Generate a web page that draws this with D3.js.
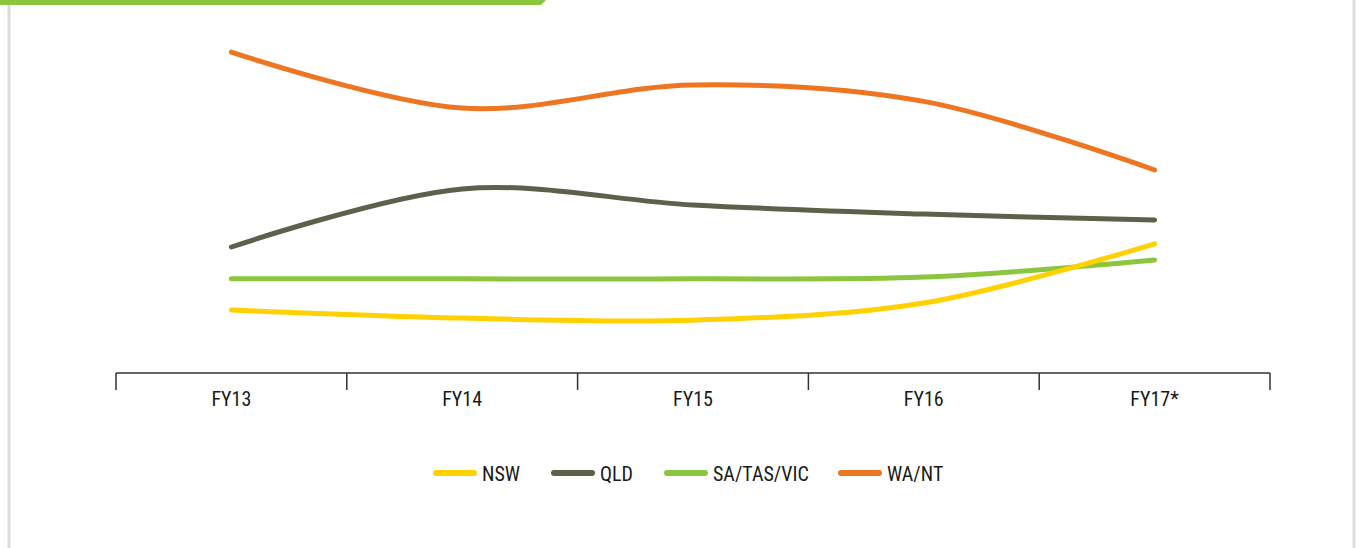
<!DOCTYPE html>
<html>
<head>
<meta charset="utf-8">
<script src="https://cdn.jsdelivr.net/npm/d3@7"></script>
<style>
  html, body { margin: 0; padding: 0; background: #fff; }
  svg { display: block; }
  .lbl { font-family: "Liberation Sans Narrow", "Roboto Condensed", "Roboto", sans-serif; fill: #1a1a1a; }
</style>
</head>
<body>
<div id="chart"></div>
<script>
// ---- data (arbitrary units) ----
const years = ["FY13", "FY14", "FY15", "FY16", "FY17*"];
const seriesNames = ["NSW", "QLD", "SA/TAS/VIC", "WA/NT"];
const seriesColors = ["#FFD100", "#5E604B", "#8CC63F", "#EE7623"];
const nsw = [18.0, 15.7, 15.1, 20.0, 36.9];
const qld = [36.0, 52.6, 48.0, 45.4, 43.7];
const saTasVic = [26.9, 26.9, 26.9, 27.4, 32.3];
const waNt = [91.7, 75.7, 82.3, 77.6, 58.0];

const seriesValues = [nsw, qld, saTasVic, waNt];

const W = 1361, H = 548;
const svg = d3.select("#chart").append("svg")
  .attr("width", W).attr("height", H);

// frame: top green tab + grey side rules
svg.append("path")
  .attr("d", "M0,0 L546,0 L541,5 L0,5 Z")
  .attr("fill", "#8CC63F");
svg.append("line")
  .attr("x1", 9).attr("x2", 9).attr("y1", 5).attr("y2", H)
  .attr("stroke", "#dcdcdc").attr("stroke-width", 3);
svg.append("line")
  .attr("x1", 1354).attr("x2", 1354).attr("y1", 0).attr("y2", H)
  .attr("stroke", "#dcdcdc").attr("stroke-width", 3);

// scales
const x = d3.scaleBand().domain(years).range([116, 1270]).padding(0);
const y = d3.scaleLinear().domain([0, 100]).range([373, 23]);
const cx = d => x(d) + x.bandwidth() / 2;

// x axis: baseline with category boundary ticks
const axisY = 373;
svg.append("line")
  .attr("x1", x.range()[0]).attr("x2", x.range()[1])
  .attr("y1", axisY).attr("y2", axisY)
  .attr("stroke", "#333").attr("stroke-width", 1.5);
const bounds = years.map(d => x(d)).concat([x.range()[1]]);
svg.selectAll(".tick-b").data(bounds).join("line")
  .attr("x1", d => d).attr("x2", d => d)
  .attr("y1", axisY).attr("y2", axisY + 17)
  .attr("stroke", "#333").attr("stroke-width", 1.5);
svg.selectAll(".xlab").data(years).join("text")
  .attr("class", "lbl")
  .attr("x", cx)
  .attr("y", 406)
  .attr("text-anchor", "middle")
  .style("font-size", "20px")
  .text(d => d);

// lines
const line = d3.line()
  .x((d, i) => cx(years[i]))
  .y(d => y(d))
  .curve(d3.curveCatmullRom);

// draw order: green, yellow, olive, orange
[2, 0, 1, 3].forEach(k => {
  svg.append("path")
    .datum(seriesValues[k])
    .attr("d", line)
    .attr("fill", "none")
    .attr("stroke", seriesColors[k])
    .attr("stroke-width", 5)
    .attr("stroke-linecap", "round");
});

// legend
const legendX = [436, 554, 667, 841];
const legendY = 473;
const leg = svg.selectAll(".leg").data(seriesNames).join("g")
  .attr("transform", (d, i) => `translate(${legendX[i]},${legendY})`);
leg.append("line")
  .attr("x1", 0).attr("x2", 38).attr("y1", 0).attr("y2", 0)
  .attr("stroke", (d, i) => seriesColors[i])
  .attr("stroke-width", 6)
  .attr("stroke-linecap", "round");
leg.append("text")
  .attr("class", "lbl")
  .attr("x", 46).attr("y", 7.5)
  .style("font-size", "20px")
  .text(d => d);
</script>
</body>
</html>
